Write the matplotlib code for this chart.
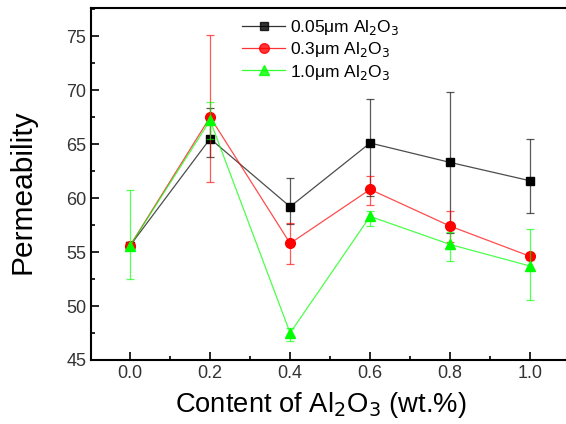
import matplotlib.pyplot as plt
from matplotlib.lines import Line2D
from matplotlib.ticker import MultipleLocator

plt.rcParams["font.family"] = ["Liberation Sans", "DejaVu Sans"]

content = [0.0, 0.2, 0.4, 0.6, 0.8, 1.0]

# 0.05 um Al2O3
perm_005 = [55.6, 65.5, 59.2, 65.1, 63.3, 61.6]
err_005_lo = [0.3, 1.7, 1.6, 4.9, 6.5, 3.0]
err_005_hi = [0.3, 2.8, 2.7, 4.1, 6.5, 3.9]

# 0.3 um Al2O3
perm_03 = [55.6, 67.5, 55.8, 60.8, 57.4, 54.6]
err_03_lo = [0.3, 6.0, 1.9, 1.4, 1.5, 0.3]
err_03_hi = [0.3, 7.6, 1.9, 1.2, 1.4, 0.3]

# 1.0 um Al2O3
perm_10 = [55.6, 67.2, 47.5, 58.3, 55.7, 53.7]
err_10_lo = [3.1, 1.7, 0.7, 0.9, 1.5, 3.1]
err_10_hi = [5.1, 1.7, 0.5, 0.5, 1.2, 3.4]

series = [
    (perm_005, err_005_lo, err_005_hi, "black", "s", 6, "0.05\u03bcm Al$_2$O$_3$"),
    (perm_03, err_03_lo, err_03_hi, "red", "o", 7, "0.3\u03bcm Al$_2$O$_3$"),
    (perm_10, err_10_lo, err_10_hi, "#00ff00", "^", 7, "1.0\u03bcm Al$_2$O$_3$"),
]

fig = plt.figure(figsize=(5.66, 4.24), dpi=100)
ax = fig.add_axes([0.161, 0.151, 0.86, 0.830])

handles = []
for vals, lo, hi, color, marker, ms, label in series:
    ax.errorbar(content, vals, yerr=[lo, hi], fmt="none", ecolor=color,
                elinewidth=0.9, capsize=3, capthick=0.9, alpha=0.65)
    ax.plot(content, vals, color=color, linewidth=0.9, alpha=0.7)
    ax.plot(content, vals, linestyle="none", marker=marker, markersize=ms,
            color=color)
    handles.append(Line2D([], [], color=color, linewidth=0.9, alpha=0.8,
                          marker=marker, markersize=ms, label=label))

ax.set_xlim(-0.0975, 1.1194)
ax.set_ylim(45, 77.6)
ax.set_xticks(content)
ax.set_xticklabels([f"{c:.1f}" for c in content])
ax.set_yticks([45, 50, 55, 60, 65, 70, 75])
ax.xaxis.set_minor_locator(MultipleLocator(0.1))
ax.yaxis.set_minor_locator(MultipleLocator(2.5))
ax.tick_params(which="both", direction="in", top=False, right=False,
               labelsize=13, labelcolor="#333333", width=1.2)
ax.tick_params(which="major", length=6)
ax.tick_params(which="minor", length=3)
for sp in ax.spines.values():
    sp.set_linewidth(1.5)

ax.set_xlabel("Content of Al$_2$O$_3$ (wt.%)", fontsize=19.7)
ax.xaxis.set_label_coords(0.471, -0.085, transform=ax.transAxes)
ax.xaxis.label.set_verticalalignment("top")
ax.set_ylabel("Permeability", fontsize=21.5)
ax.yaxis.set_label_coords(-0.14, 0.477, transform=ax.transAxes)
ax.yaxis.label.set_verticalalignment("center")

ax.legend(handles=handles, loc="upper left", bbox_to_anchor=(0.29, 1.0),
          frameon=False, fontsize=12.5, handlelength=2.5, handletextpad=0.3,
          labelspacing=0.2, borderaxespad=0.15)

fig.savefig("out.png", dpi=100)
